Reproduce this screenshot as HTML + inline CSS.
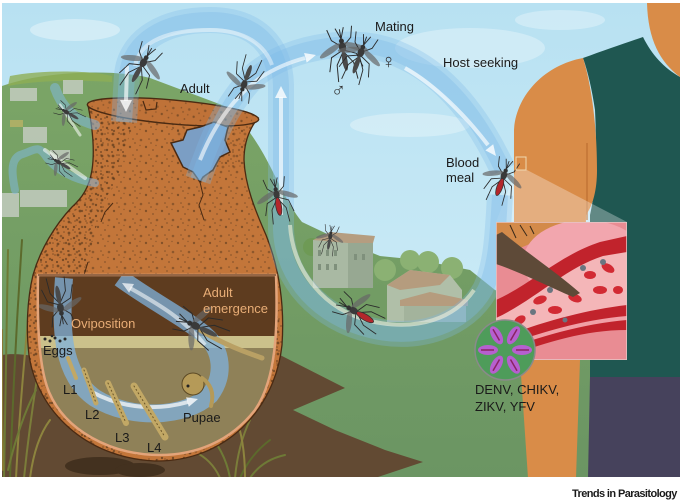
<!DOCTYPE html>
<html><head><meta charset="utf-8"><style>
html,body{margin:0;padding:0;background:#fff;}
svg{display:block;}
text{font-family:"Liberation Sans",Arial,sans-serif;}
</style></head><body>
<svg width="680" height="503" viewBox="0 0 680 503" xmlns="http://www.w3.org/2000/svg">
<defs>
<linearGradient id="sky" x1="0" y1="0" x2="0" y2="1"><stop offset="0" stop-color="#b8e1f2"/><stop offset="1" stop-color="#d3eff8"/></linearGradient>
<linearGradient id="land" x1="0" y1="0" x2="0" y2="1"><stop offset="0" stop-color="#7ba566"/><stop offset="1" stop-color="#6b9563"/></linearGradient>
<pattern id="speck" width="16" height="16" patternUnits="userSpaceOnUse">
<circle cx="2" cy="3" r="1.2" fill="#5a3a1e" opacity=".6"/><circle cx="9" cy="6" r=".9" fill="#5a3a1e" opacity=".55"/>
<circle cx="13" cy="12" r="1.3" fill="#5a3a1e" opacity=".5"/><circle cx="5" cy="11" r=".8" fill="#5a3a1e" opacity=".6"/>
<circle cx="12" cy="1.5" r=".7" fill="#5a3a1e" opacity=".5"/><circle cx="7" cy="15" r=".9" fill="#5a3a1e" opacity=".5"/>
</pattern>
<pattern id="speck2" width="11" height="11" patternUnits="userSpaceOnUse">
<circle cx="3" cy="2" r="1.4" fill="#4a2e16" opacity=".6"/><circle cx="8" cy="7" r="1.2" fill="#4a2e16" opacity=".6"/>
<circle cx="2" cy="9" r="1" fill="#4a2e16" opacity=".55"/><circle cx="9" cy="1" r=".8" fill="#4a2e16" opacity=".55"/>
</pattern>
<clipPath id="img"><rect x="2" y="3" width="678" height="474"/></clipPath>
<clipPath id="potc"><path d="M88,105 C 92,125 95,150 92,170 C 89,188 82,198 72,207 C 55,225 40,250 33,275 C 27,300 26,330 29,355 C 37,410 85,458 155,461 C 225,462 275,410 282,345 C 285,300 278,265 266,235 C 255,210 245,185 244,160 C 244,142 250,128 258,118 Z"/></clipPath>
<clipPath id="cut"><path d="M38,275 L276,275 C 278,330 276,380 255,410 C 230,442 195,455 160,455 C 110,455 65,430 49,392 C 39,368 37,325 38,275 Z"/></clipPath>
<clipPath id="ins"><rect x="496" y="222" width="131" height="138"/></clipPath>
<clipPath id="vir"><circle cx="505" cy="350" r="30"/></clipPath>
<g id="mq">
<g stroke="#2b2b2b" stroke-width="0.7" fill="none">
<path d="M0,-2 L-7,-8 L-9,-16"/><path d="M0,-2 L7,-8 L9,-16"/>
<path d="M0,0 L-9,4 L-12,14"/><path d="M0,0 L9,4 L12,14"/>
<path d="M0,1 L-6,10 L-7,22"/><path d="M0,1 L6,10 L7,22"/>
<path d="M0,-8 L-3,-16 M0,-8 L3,-16"/><path d="M0,-7 L0,-15"/>
</g>
<ellipse cx="-9" cy="-1" rx="9" ry="2.2" transform="rotate(-25 -9 -1)" fill="#666" opacity=".7"/>
<ellipse cx="9" cy="-1" rx="9" ry="2.2" transform="rotate(25 9 -1)" fill="#666" opacity=".7"/>
<ellipse cx="0" cy="-2" rx="2.6" ry="3.5" fill="#3a3a3a"/>
<circle cx="0" cy="-6.5" r="1.8" fill="#333"/>
<ellipse cx="0" cy="8" rx="1.9" ry="7" fill="#4a4a4a"/>
</g>
<g id="mqr">
<g stroke="#2b2b2b" stroke-width="0.7" fill="none">
<path d="M0,-2 L-7,-8 L-9,-16"/><path d="M0,-2 L7,-8 L9,-16"/>
<path d="M0,0 L-9,4 L-12,14"/><path d="M0,0 L9,4 L12,14"/>
<path d="M0,1 L-6,10 L-7,22"/><path d="M0,1 L6,10 L7,22"/>
<path d="M0,-8 L-3,-16 M0,-8 L3,-16"/><path d="M0,-7 L0,-15"/>
</g>
<ellipse cx="-9" cy="-1" rx="9" ry="2.2" transform="rotate(-25 -9 -1)" fill="#666" opacity=".7"/>
<ellipse cx="9" cy="-1" rx="9" ry="2.2" transform="rotate(25 9 -1)" fill="#666" opacity=".7"/>
<ellipse cx="0" cy="-2" rx="2.6" ry="3.5" fill="#3a3a3a"/>
<circle cx="0" cy="-6.5" r="1.8" fill="#333"/>
<ellipse cx="0" cy="8" rx="2.4" ry="7.5" fill="#b3262b" stroke="#333" stroke-width=".6"/>
</g>
</defs>

<rect width="680" height="503" fill="#fff"/>
<g clip-path="url(#img)">
<rect x="2" y="3" width="678" height="474" fill="url(#sky)"/>
<ellipse cx="75" cy="30" rx="45" ry="11" fill="#fff" opacity=".35"/>
<ellipse cx="470" cy="48" rx="75" ry="20" fill="#fff" opacity=".3"/>
<ellipse cx="410" cy="125" rx="60" ry="12" fill="#fff" opacity=".3"/>
<ellipse cx="560" cy="20" rx="45" ry="10" fill="#fff" opacity=".3"/>

<path d="M2,86 C 40,72 110,68 150,78 L 230,108 C 250,130 262,150 272,170 C 282,190 292,210 302,222 L 340,240 L 380,256 L 420,260 L 470,270 L 495,290 L 520,300 L 680,300 L 680,478 L 2,478 Z" fill="url(#land)"/>
<path d="M10,76 C 40,70 90,70 112,76 L 112,82 C 80,80 40,80 8,86 Z" fill="#8fae55" opacity=".8"/>
<g fill="#c3ccc0" opacity=".85">
<rect x="10" y="88" width="27" height="13"/><rect x="63" y="80" width="20" height="14"/>
<rect x="23" y="127" width="24" height="16"/><rect x="2" y="193" width="17" height="24"/>
<rect x="20" y="190" width="47" height="17"/><rect x="50" y="150" width="20" height="10"/>
</g>
<rect x="10" y="120" width="13" height="7" fill="#b9b267" opacity=".8"/>
<circle cx="312" cy="247" r="9" fill="#6e9a55"/>
<rect x="313" y="240" width="60" height="48" fill="#a9b9a3"/>
<rect x="348" y="243" width="25" height="45" fill="#97a892"/>
<polygon points="313,240 330,232 375,236 373,243 348,243" fill="#b59d80"/>
<g fill="#7f907c"><rect x="318" y="250" width="3" height="6"/><rect x="326" y="250" width="3" height="6"/><rect x="334" y="250" width="3" height="6"/><rect x="318" y="264" width="3" height="6"/><rect x="326" y="264" width="3" height="6"/><rect x="334" y="264" width="3" height="6"/><rect x="354" y="254" width="3" height="6"/><rect x="362" y="254" width="3" height="6"/></g>
<circle cx="385" cy="270" r="11" fill="#8bb173"/><circle cx="410" cy="260" r="10" fill="#8bb173"/><circle cx="428" cy="262" r="11" fill="#8bb173"/><circle cx="452" cy="268" r="11" fill="#8bb173"/>
<polygon points="387,285 410,270 450,275 462,290 462,322 387,322" fill="#b0bfa8"/>
<polygon points="387,285 410,270 450,275 440,285 400,290" fill="#b59c7e"/>
<polygon points="400,300 430,292 468,300 468,306 400,306" fill="#b59c7e"/>
<rect x="404" y="306" width="62" height="16" fill="#a3b39c"/>
<path d="M2,355 C 20,352 40,358 60,360 L 280,355 L 345,388 L 293,410 L 335,430 L 385,450 L 423,462 L 378,477 L 2,477 Z" fill="#624a33"/>
<ellipse cx="100" cy="466" rx="35" ry="9" fill="#43311f"/><ellipse cx="140" cy="470" rx="25" ry="7" fill="#43311f"/>
<g fill="none" stroke-linecap="round">
<path d="M4,478 Q6,380 8,250" stroke="#6e7a36" stroke-width="2"/>
<path d="M10,478 Q14,360 22,240" stroke="#5c6a2c" stroke-width="2"/>
<path d="M16,478 Q20,400 30,300" stroke="#8d843e" stroke-width="2"/>
<path d="M24,478 Q30,420 40,360" stroke="#7b7d3a" stroke-width="2"/>
<path d="M3,470 Q2,420 2,330" stroke="#8a7a35" stroke-width="2"/>
<path d="M8,470 Q20,420 36,390" stroke="#6e7a36" stroke-width="2"/>
<path d="M30,478 Q35,440 50,420" stroke="#8d843e" stroke-width="2"/>
<path d="M230,478 Q225,450 205,430" stroke="#6e7a36" stroke-width="2"/>
<path d="M235,478 Q238,445 250,420" stroke="#7b7d3a" stroke-width="2"/>
<path d="M240,478 Q250,455 270,440" stroke="#5c6a2c" stroke-width="2"/>
<path d="M245,478 Q245,440 235,415" stroke="#8d843e" stroke-width="2"/>
<path d="M250,478 Q262,460 285,455" stroke="#6e7a36" stroke-width="2"/>
<path d="M220,478 Q212,460 195,452" stroke="#7b7d3a" stroke-width="2"/>
</g>

<path d="M583,58 C 605,50 625,43 643,37 C 652,55 664,68 680,77 L 680,377 L 590,377 C 590,300 590,250 590,215 C 596,190 597,150 595,110 C 592,90 588,72 583,58 Z" fill="#1f5751"/>
<path d="M647,3 L 680,3 L 680,77 C 660,62 648,40 647,3 Z" fill="#d98c48"/>
<path d="M514,232 L 514,130 C 516,95 545,65 583,58 C 590,80 597,120 597,170 C 597,190 593,205 586,215 L 584,360 L 580,360 L 576,478 L 528,478 L 520,360 L 514,360 Z" fill="#d98c48"/>
<path d="M587,143 L 587,220" stroke="#c27535" stroke-width="1.5"/>
<path d="M590,377 L 680,377 L 680,478 L 588,478 Z" fill="#46425c"/>
<polygon points="516,170 527,170 627,222 496,222" fill="#fff" opacity=".3"/>

<!-- pot -->
<path d="M88,105 C 92,125 95,150 92,170 C 89,188 82,198 72,207 C 55,225 40,250 33,275 C 27,300 26,330 29,355 C 37,410 85,458 155,461 C 225,462 275,410 282,345 C 285,300 278,265 266,235 C 255,210 245,185 244,160 C 244,142 250,128 258,118 Z" fill="#c3763a"/>
<g clip-path="url(#potc)">
<rect x="20" y="95" width="270" height="370" fill="url(#speck)"/>
<path d="M20,95 L140,95 L120,170 L95,230 L80,300 L90,380 L130,470 L20,470 Z" fill="url(#speck2)"/>
<path d="M200,380 L290,300 L290,470 L150,470 Z" fill="url(#speck2)"/>
<path d="M150,95 L260,95 L245,170 L200,170 Z" fill="url(#speck2)" opacity=".6"/>
</g>
<path d="M88,105 C 92,125 95,150 92,170 C 89,188 82,198 72,207 C 55,225 40,250 33,275 C 27,300 26,330 29,355 C 37,410 85,458 155,461 C 225,462 275,410 282,345 C 285,300 278,265 266,235 C 255,210 245,185 244,160 C 244,142 250,128 258,118 Z" fill="none" stroke="#4a2a12" stroke-width="1.3"/>
<ellipse cx="173" cy="112" rx="86" ry="12" transform="rotate(5 173 112)" fill="#bf7238" stroke="#4a2a12" stroke-width="1.4"/>
<ellipse cx="173" cy="112" rx="86" ry="12" transform="rotate(5 173 112)" fill="url(#speck)"/>
<path d="M143,101 L146,110 L156,109 L157,102" fill="none" stroke="#4a2a12" stroke-width="1.2"/>
<polygon points="171,143 183,140 187,130 200,127 214,122 228,127 225,140 230,152 220,157 213,170 203,177 200,182 193,172 183,167 178,157" fill="#7b9ec4" stroke="#4a2a12" stroke-width="1.5"/>
<path d="M200,182 L203,195 L199,205 L204,220" fill="none" stroke="#4a2a12" stroke-width="1"/>
<path d="M113,203 L105,212 L101,222 M88,262 L84,275" fill="none" stroke="#4a2a12" stroke-width="1"/>

<g clip-path="url(#cut)">
<rect x="30" y="270" width="255" height="66" fill="#5e3c1f"/>
<rect x="30" y="336" width="255" height="12" fill="#cbc18b"/>
<rect x="30" y="348" width="255" height="115" fill="#8f8158"/>
<path d="M64,278 C 60,330 62,375 95,398 C 130,420 185,418 210,395 C 225,375 222,350 205,335 C 185,318 150,300 120,278" fill="none" stroke="#7fb2de" stroke-width="18" opacity=".75"/>
<path d="M92,392 C 125,410 160,410 188,402" fill="none" stroke="#fff" stroke-width="4" opacity=".7"/>
<polygon points="198,399 188.8,406.8 186.1,397.2" fill="#fff" opacity=".8"/>
<path d="M205,345 C 185,320 160,305 130,288" fill="none" stroke="#fff" stroke-width="4" opacity=".55"/>
<polygon points="122,283 134,284 129.1,292.8" fill="#fff" opacity=".7"/>
<g fill="#2a2a2a"><circle cx="45" cy="339" r="1.5"/><circle cx="50" cy="341" r="1.5"/><circle cx="55" cy="338" r="1.5"/><circle cx="60" cy="341" r="1.5"/><circle cx="65" cy="339" r="1.5"/><circle cx="52" cy="336" r="1.3"/></g>
<g stroke-linecap="round">
<path d="M68,358 L76,378" stroke="#c2a865" stroke-width="4"/>
<path d="M84,370 L96,403" stroke="#c2a865" stroke-width="5"/>
<path d="M108,383 L126,423" stroke="#c2a865" stroke-width="6"/>
<path d="M134,386 L165,437" stroke="#c2a865" stroke-width="7"/>
<path d="M84,370 L96,403 M108,383 L126,423 M134,386 L165,437" stroke="#6a5528" stroke-width="1" stroke-dasharray="1 3"/>
</g>
<circle cx="193" cy="384" r="11" fill="#b59a58" stroke="#5c4a25" stroke-width="1"/>
<path d="M202,378 C 212,385 214,395 211,406" fill="none" stroke="#b59a58" stroke-width="4" stroke-linecap="round"/>
<circle cx="188" cy="386" r="1.5" fill="#222"/>
<path d="M200,330 C 225,345 245,352 262,358" fill="none" stroke="#b9a064" stroke-width="5" stroke-linecap="round"/>
<use href="#mq" transform="translate(198,327) rotate(-65) scale(1.4)"/>
<use href="#mq" transform="translate(60,305) rotate(170) scale(1.3)"/>
</g>
<path d="M38,275 L276,275 C 278,330 276,380 255,410 C 230,442 195,455 160,455 C 110,455 65,430 49,392 C 39,368 37,325 38,275 Z" fill="none" stroke="#e3a47a" stroke-width="2.5"/>
<path d="M38,275 L276,275" stroke="#4a2a12" stroke-width="1"/>

<g fill="none" stroke-linecap="round">
<path d="M95,125 C 75,120 62,108 55,88" stroke="#7fb9e6" stroke-width="10" opacity=".5"/>
<path d="M95,183 C 75,180 55,170 45,155 C 38,145 35,150 20,155 C 10,160 12,175 15,190" stroke="#7fb9e6" stroke-width="8" opacity=".5"/>
<path d="M45,150 L85,178" stroke="#fff" stroke-width="4" opacity=".55"/>
<path d="M60,105 L80,135" stroke="#fff" stroke-width="3" opacity=".55"/>
</g>

<g fill="none" stroke-linecap="butt">
<path d="M124,122 L127,75 C 130,40 165,20 210,20 C 255,20 280,45 281,85 L 281,230 C 283,280 320,318 370,330 C 420,342 465,325 485,290 C 497,265 498,230 500,195" stroke="#7fbbe9" stroke-width="26" opacity=".3"/>
<path d="M124,122 L127,75 C 130,40 165,20 210,20 C 255,20 280,45 281,85 L 281,230 C 283,280 320,318 370,330 C 420,342 465,325 485,290 C 497,265 498,230 500,195" stroke="#7fbbe9" stroke-width="16" opacity=".35"/>
<path d="M198,180 C 212,140 225,105 255,75 C 290,45 360,35 400,55 C 440,72 475,110 503,170" stroke="#7fbbe9" stroke-width="26" opacity=".3"/>
<path d="M198,180 C 212,140 225,105 255,75 C 290,45 360,35 400,55 C 440,72 475,110 503,170" stroke="#7fbbe9" stroke-width="16" opacity=".35"/>
<path d="M281,215 L281,97" stroke="#fff" stroke-width="4" opacity=".65"/>
<polygon points="281,86 275,98 287,98" fill="#fff" opacity=".8"/>
<path d="M127,66 L126,101" stroke="#fff" stroke-width="4" opacity=".65"/>
<polygon points="126,112 120,100 132,100" fill="#fff" opacity=".8"/>
<path d="M135,66 C 140,40 170,30 210,30 C 245,30 265,45 272,65" stroke="#fff" stroke-width="4" opacity=".45"/>
<path d="M200,160 C 212,130 230,100 260,78 C 275,68 290,62 305,58" stroke="#fff" stroke-width="4" opacity=".6"/>
<polygon points="316,55 306.7,62.6 304.1,53" fill="#fff" opacity=".8"/>
<path d="M405,68 C 435,85 465,115 488,145" stroke="#fff" stroke-width="4" opacity=".65"/>
<polygon points="496,156 493.2,144.3 485.4,150.4" fill="#fff" opacity=".8"/>
<path d="M290,225 C 293,272 325,310 370,321 C 418,332 455,318 474,290" stroke="#f2f2e0" stroke-width="4" opacity=".6"/>
</g>

<use href="#mq" transform="translate(142,65) rotate(30) scale(1.3)"/>
<use href="#mq" transform="translate(245,82) rotate(200) scale(1.2)"/>
<use href="#mqr" transform="translate(277,197) rotate(-10) scale(1.2)"/>
<use href="#mq" transform="translate(343,50) rotate(-10) scale(1.4)"/>
<use href="#mq" transform="translate(360,55) rotate(20) scale(1.3)"/>
<use href="#mqr" transform="translate(503,178) rotate(20) scale(1.2)"/>
<use href="#mqr" transform="translate(356,312) rotate(-60) scale(1.3)"/>
<use href="#mq" transform="translate(330,238) rotate(10) scale(.8)"/>
<use href="#mq" transform="translate(68,113) rotate(-60) scale(.8)"/>
<use href="#mq" transform="translate(60,163) rotate(-60) scale(.8)"/>

<g clip-path="url(#ins)">
<rect x="496" y="222" width="131" height="138" fill="#e98c93"/>
<path d="M496,222 L 565,222 C 548,237 525,247 496,257 Z" fill="#d38a4a"/>
<path d="M510,225 L516,238 M520,225 L527,236 M530,226 L534,234" stroke="#3a2a1a" stroke-width="1"/>
<ellipse cx="585" cy="262" rx="62" ry="42" fill="#f2a6ae"/>
<path d="M496,300 C 530,285 560,255 600,242 L 627,236 L 627,330 C 580,330 540,345 496,360 Z" fill="#c1232c"/>
<path d="M496,318 C 535,300 565,268 603,256 L 627,252 L 627,305 C 585,310 540,322 496,340 Z" fill="#f4b6b8"/>
<path d="M496,350 C 540,335 580,322 627,318" stroke="#f1a0a6" stroke-width="4" fill="none"/>
<g fill="#d22a33">
<ellipse cx="540" cy="300" rx="7" ry="4" transform="rotate(-20 540 300)"/><ellipse cx="555" cy="310" rx="7" ry="4"/>
<ellipse cx="575" cy="298" rx="7" ry="4" transform="rotate(20 575 298)"/><ellipse cx="590" cy="275" rx="6" ry="4"/>
<ellipse cx="608" cy="268" rx="7" ry="4" transform="rotate(30 608 268)"/><ellipse cx="600" cy="290" rx="7" ry="4"/>
<ellipse cx="520" cy="320" rx="6" ry="4" transform="rotate(-30 520 320)"/><ellipse cx="505" cy="330" rx="6" ry="3.5"/>
<ellipse cx="618" cy="290" rx="5" ry="4"/>
</g>
<g fill="#6a7580"><circle cx="550" cy="290" r="3"/><circle cx="533" cy="312" r="3"/><circle cx="565" cy="320" r="2.5"/><circle cx="583" cy="268" r="3"/><circle cx="603" cy="262" r="3"/><circle cx="517" cy="330" r="2.5"/></g>
<path d="M496,235 L 502,232 C 530,255 560,275 580,293 L 573,297 C 545,285 520,272 496,264 Z" fill="#5e4a38"/>
<rect x="496" y="222" width="131" height="138" fill="none" stroke="#e7c6c6" stroke-width="1.5"/>
</g>

<g clip-path="url(#vir)">
<circle cx="505" cy="350" r="30" fill="#4e9c5a"/>
<g fill="#b65fcf">
<g transform="rotate(0 505 350)"><ellipse cx="522" cy="350" rx="10" ry="5"/></g>
<g transform="rotate(60 505 350)"><ellipse cx="522" cy="350" rx="10" ry="5"/></g>
<g transform="rotate(120 505 350)"><ellipse cx="522" cy="350" rx="10" ry="5"/></g>
<g transform="rotate(180 505 350)"><ellipse cx="522" cy="350" rx="10" ry="5"/></g>
<g transform="rotate(240 505 350)"><ellipse cx="522" cy="350" rx="10" ry="5"/></g>
<g transform="rotate(300 505 350)"><ellipse cx="522" cy="350" rx="10" ry="5"/></g>
</g>
<g stroke="#8a2363" stroke-width="1.5">
<path d="M516,350 L529,350" transform="rotate(0 505 350)"/><path d="M516,350 L529,350" transform="rotate(60 505 350)"/>
<path d="M516,350 L529,350" transform="rotate(120 505 350)"/><path d="M516,350 L529,350" transform="rotate(180 505 350)"/>
<path d="M516,350 L529,350" transform="rotate(240 505 350)"/><path d="M516,350 L529,350" transform="rotate(300 505 350)"/>
</g>
</g>
<circle cx="505" cy="350" r="30" fill="none" stroke="#8a8a8a" stroke-width="1.5"/>
<rect x="516" y="157" width="10" height="13" fill="none" stroke="#f0d8b0" stroke-width="1"/>

<g font-size="13" fill="#1a1a1a">
<text x="180" y="93">Adult</text>
<text x="375" y="31">Mating</text>
<text x="443" y="67">Host seeking</text>
<text x="446" y="167">Blood</text>
<text x="446" y="182">meal</text>
<text x="43" y="355">Eggs</text>
<text x="63" y="394">L1</text>
<text x="85" y="419">L2</text>
<text x="115" y="442">L3</text>
<text x="147" y="452">L4</text>
<text x="183" y="422">Pupae</text>
<text x="475" y="394">DENV, CHIKV,</text>
<text x="475" y="411">ZIKV, YFV</text>
</g>
<g font-size="13" fill="#e8ad76">
<text x="203" y="297">Adult</text>
<text x="203" y="313">emergence</text>
<text x="71" y="328">Oviposition</text>
</g>
<text x="331" y="97" font-size="20" fill="#333" font-family="DejaVu Sans, sans-serif">♂</text>
<text x="381" y="68" font-size="20" fill="#333" font-family="DejaVu Sans, sans-serif">♀</text>
</g>
<text x="572" y="497" font-size="11" font-weight="bold" letter-spacing="-0.6" fill="#1a1a1a">Trends in Parasitology</text>
</svg>
</body></html>
